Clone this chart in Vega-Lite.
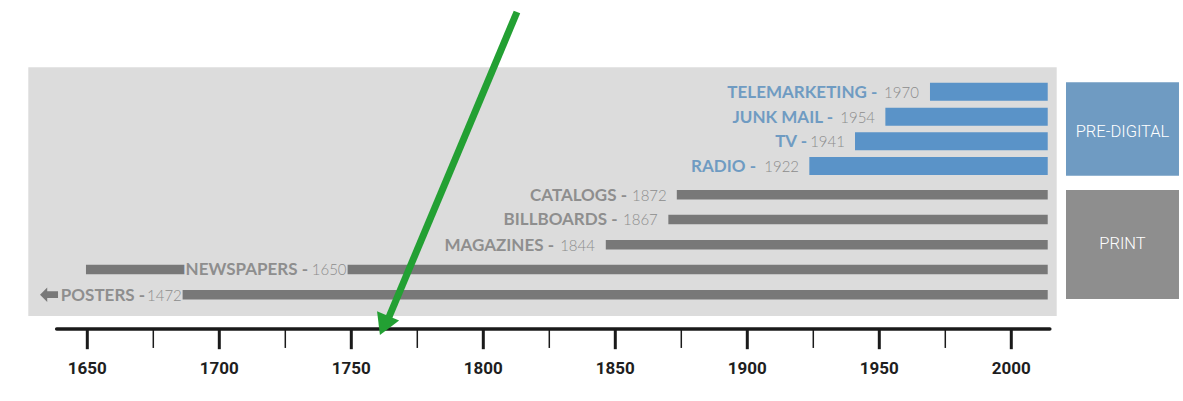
{
  "$schema": "https://vega.github.io/schema/vega-lite/v6.json",
  "width": 1183,
  "height": 401,
  "padding": 0,
  "autosize": {"type": "fit", "contains": "padding"},
  "background": "#ffffff",
  "config": {"view": {"stroke": null}, "axis": {"disable": true}},
  "datasets": {
    "rows": [
      {"name": "TELEMARKETING", "year": "1970", "group": "PRE-DIGITAL", "lane": 0, "labelEnd": 1965.0, "nameEnd": 1949.24},
      {"name": "JUNK MAIL", "year": "1954", "group": "PRE-DIGITAL", "lane": 1, "labelEnd": 1948.4, "nameEnd": 1932.46},
      {"name": "TV", "year": "1941", "group": "PRE-DIGITAL", "lane": 1.98, "labelEnd": 1937.0, "nameEnd": 1922.61},
      {"name": "RADIO", "year": "1922", "group": "PRE-DIGITAL", "lane": 2.97, "labelEnd": 1919.6, "nameEnd": 1903.3},
      {"name": "CATALOGS", "year": "1872", "group": "PRINT", "lane": 4.12, "labelEnd": 1869.5, "nameEnd": 1854.43},
      {"name": "BILLBOARDS", "year": "1867", "group": "PRINT", "lane": 5.11, "labelEnd": 1866.1, "nameEnd": 1850.83},
      {"name": "MAGAZINES", "year": "1844", "group": "PRINT", "lane": 6.12, "labelEnd": 1842.3, "nameEnd": 1826.78},
      {"name": "NEWSPAPERS", "year": "1650", "group": "PRINT", "lane": 7.11, "labelEnd": 1748.2, "nameEnd": 1733.6},
      {"name": "POSTERS", "year": "1472", "group": "PRINT", "lane": 8.12, "labelEnd": 1685.8, "nameEnd": 1671.9, "arrowAt": 1635.5}
    ],
    "segments": [
      {"name": "TELEMARKETING", "group": "PRE-DIGITAL", "lane": 0, "start": 1969.2, "end": 2013.8},
      {"name": "JUNK MAIL", "group": "PRE-DIGITAL", "lane": 1, "start": 1952.3, "end": 2013.8},
      {"name": "TV", "group": "PRE-DIGITAL", "lane": 1.98, "start": 1940.8, "end": 2013.8},
      {"name": "RADIO", "group": "PRE-DIGITAL", "lane": 2.97, "start": 1923.5, "end": 2013.8},
      {"name": "CATALOGS", "group": "PRINT", "lane": 4.12, "start": 1873.3, "end": 2013.8},
      {"name": "BILLBOARDS", "group": "PRINT", "lane": 5.11, "start": 1870.1, "end": 2013.8},
      {"name": "MAGAZINES", "group": "PRINT", "lane": 6.12, "start": 1846.4, "end": 2013.8},
      {"name": "NEWSPAPERS", "group": "PRINT", "lane": 7.11, "start": 1649.5, "end": 1688.3},
      {"name": "NEWSPAPERS", "group": "PRINT", "lane": 7.11, "start": 1748.6, "end": 2013.8},
      {"name": "POSTERS", "group": "PRINT", "lane": 8.12, "start": 1686.1, "end": 2013.8}
    ],
    "groups": [
      {"group": "PRE-DIGITAL", "from": 2020.72, "to": 2063.52, "top": -0.376, "bottom": 3.36, "mid": 1.6},
      {"group": "PRINT", "from": 2020.72, "to": 2063.52, "top": 3.932, "bottom": 8.292, "mid": 6.104}
    ],
    "ticks": [
      {"year": 1650, "major": true}, {"year": 1675, "major": false},
      {"year": 1700, "major": true}, {"year": 1725, "major": false},
      {"year": 1750, "major": true}, {"year": 1775, "major": false},
      {"year": 1800, "major": true}, {"year": 1825, "major": false},
      {"year": 1850, "major": true}, {"year": 1875, "major": false},
      {"year": 1900, "major": true}, {"year": 1925, "major": false},
      {"year": 1950, "major": true}, {"year": 1975, "major": false},
      {"year": 2000, "major": true}
    ]
  },
  "layer": [
    {
      "data": {"values": [{}]},
      "mark": {"type": "rect", "color": "#dcdcdc"},
      "encoding": {
        "x": {"datum": 1627.65, "type": "quantitative", "axis": null, "scale": {"domain": [1616.93, 2065.04], "nice": false, "zero": false}},
        "x2": {"datum": 2017.2},
        "y": {"datum": -0.976, "type": "quantitative", "axis": null, "scale": {"domain": [-3.668, 12.372], "reverse": true, "nice": false, "zero": false}},
        "y2": {"datum": 8.972}
      }
    },
    {
      "data": {"name": "groups"},
      "mark": {"type": "rect"},
      "encoding": {
        "x": {"field": "from", "type": "quantitative", "axis": null},
        "x2": {"field": "to"},
        "y": {"field": "top", "type": "quantitative", "axis": null},
        "y2": {"field": "bottom"},
        "color": {"field": "group", "type": "nominal", "legend": null, "scale": {"domain": ["PRE-DIGITAL", "PRINT"], "range": ["#6f9bc2", "#8e8e8e"]}}
      }
    },
    {
      "data": {"name": "groups"},
      "transform": [{"calculate": "(datum.from + datum.to) / 2", "as": "center"}],
      "mark": {"type": "text", "color": "#ffffff", "font": "Roboto", "fontSize": 16.5, "fontWeight": 300, "baseline": "middle", "align": "center"},
      "encoding": {
        "x": {"field": "center", "type": "quantitative", "axis": null},
        "y": {"field": "mid", "type": "quantitative", "axis": null},
        "text": {"field": "group"}
      }
    },
    {
      "data": {"name": "segments"},
      "transform": [{"filter": "datum.group === 'PRE-DIGITAL'"}],
      "mark": {"type": "rule", "color": "#5a93c8", "strokeWidth": 18, "strokeCap": "butt"},
      "encoding": {
        "x": {"field": "start", "type": "quantitative", "axis": null},
        "x2": {"field": "end"},
        "y": {"field": "lane", "type": "quantitative", "axis": null}
      }
    },
    {
      "data": {"name": "segments"},
      "transform": [{"filter": "datum.group === 'PRINT'"}],
      "mark": {"type": "rule", "color": "#787878", "strokeWidth": 9.5, "strokeCap": "butt"},
      "encoding": {
        "x": {"field": "start", "type": "quantitative", "axis": null},
        "x2": {"field": "end"},
        "y": {"field": "lane", "type": "quantitative", "axis": null}
      }
    },
    {
      "data": {"name": "rows"},
      "transform": [{"calculate": "datum.name + ' -'", "as": "label"}],
      "mark": {"type": "text", "align": "right", "baseline": "middle", "font": "Lato", "fontWeight": "bold", "fontSize": 17, "dy": 1, "fill": "#dcdcdc", "stroke": "#dcdcdc", "strokeWidth": 5, "strokeJoin": "round"},
      "encoding": {
        "x": {"field": "nameEnd", "type": "quantitative", "axis": null},
        "y": {"field": "lane", "type": "quantitative", "axis": null},
        "text": {"field": "label"}
      }
    },
    {
      "data": {"name": "rows"},
      "transform": [{"filter": "isValid(datum.arrowAt)"}],
      "mark": {"type": "point", "filled": true, "opacity": 1, "color": "#787878", "size": 324, "shape": "M-1,0L-0.2,-0.8L-0.2,-0.38L1,-0.38L1,0.38L-0.2,0.38L-0.2,0.8Z"},
      "encoding": {
        "x": {"field": "arrowAt", "type": "quantitative", "axis": null},
        "y": {"field": "lane", "type": "quantitative", "axis": null}
      }
    },
    {
      "data": {"name": "rows"},
      "transform": [{"calculate": "datum.name + ' -'", "as": "label"}],
      "mark": {"type": "text", "align": "right", "baseline": "middle", "font": "Lato", "fontWeight": "bold", "fontSize": 17, "dy": 1},
      "encoding": {
        "x": {"field": "nameEnd", "type": "quantitative", "axis": null},
        "y": {"field": "lane", "type": "quantitative", "axis": null},
        "text": {"field": "label"},
        "color": {"field": "group", "type": "nominal", "legend": null, "scale": {"domain": ["PRE-DIGITAL", "PRINT"], "range": ["#5b8fc2", "#7a7a7a"]}}
      }
    },
    {
      "data": {"name": "rows"},
      "mark": {"type": "text", "align": "right", "baseline": "middle", "font": "Lato", "fontWeight": 300, "fontSize": 15, "color": "#8c8c8c", "dy": 1},
      "encoding": {
        "x": {"field": "labelEnd", "type": "quantitative", "axis": null},
        "y": {"field": "lane", "type": "quantitative", "axis": null},
        "text": {"field": "year"}
      }
    },
    {
      "data": {"values": [{}]},
      "mark": {"type": "rule", "color": "#1a1a1a", "strokeWidth": 3.5, "strokeCap": "round"},
      "encoding": {
        "x": {"datum": 1638.4, "type": "quantitative", "axis": null},
        "x2": {"datum": 2014.6},
        "y": {"datum": 9.492, "type": "quantitative", "axis": null}
      }
    },
    {
      "data": {"name": "ticks"},
      "transform": [{"filter": "datum.major"}],
      "mark": {"type": "rule", "color": "#1a1a1a", "strokeWidth": 3},
      "encoding": {
        "x": {"field": "year", "type": "quantitative", "axis": null},
        "y": {"datum": 9.492, "type": "quantitative", "axis": null},
        "y2": {"datum": 10.30}
      }
    },
    {
      "data": {"name": "ticks"},
      "transform": [{"filter": "!datum.major"}],
      "mark": {"type": "rule", "color": "#1a1a1a", "strokeWidth": 1.5},
      "encoding": {
        "x": {"field": "year", "type": "quantitative", "axis": null},
        "y": {"datum": 9.492, "type": "quantitative", "axis": null},
        "y2": {"datum": 10.25}
      }
    },
    {
      "data": {"name": "ticks"},
      "transform": [{"filter": "datum.major"}],
      "mark": {"type": "text", "color": "#1e1e1e", "font": "Roboto", "fontWeight": "bold", "fontSize": 17, "baseline": "middle", "align": "center"},
      "encoding": {
        "x": {"field": "year", "type": "quantitative", "axis": null},
        "y": {"datum": 11.09, "type": "quantitative", "axis": null},
        "text": {"field": "year", "type": "quantitative", "format": "d"}
      }
    },
    {
      "data": {"values": [{}]},
      "mark": {"type": "rule", "color": "#23a033", "strokeWidth": 7, "strokeCap": "butt"},
      "encoding": {
        "x": {"datum": 1812.76, "type": "quantitative", "axis": null},
        "x2": {"datum": 1764.28},
        "y": {"datum": -3.188, "type": "quantitative", "axis": null},
        "y2": {"datum": 9.012}
      }
    },
    {
      "data": {"values": [{}]},
      "mark": {"type": "point", "shape": "triangle-down", "filled": true, "opacity": 1, "color": "#23a033", "size": 576, "angle": 23},
      "encoding": {
        "x": {"datum": 1762.39, "type": "quantitative", "axis": null},
        "y": {"datum": 9.348, "type": "quantitative", "axis": null}
      }
    }
  ]
}
